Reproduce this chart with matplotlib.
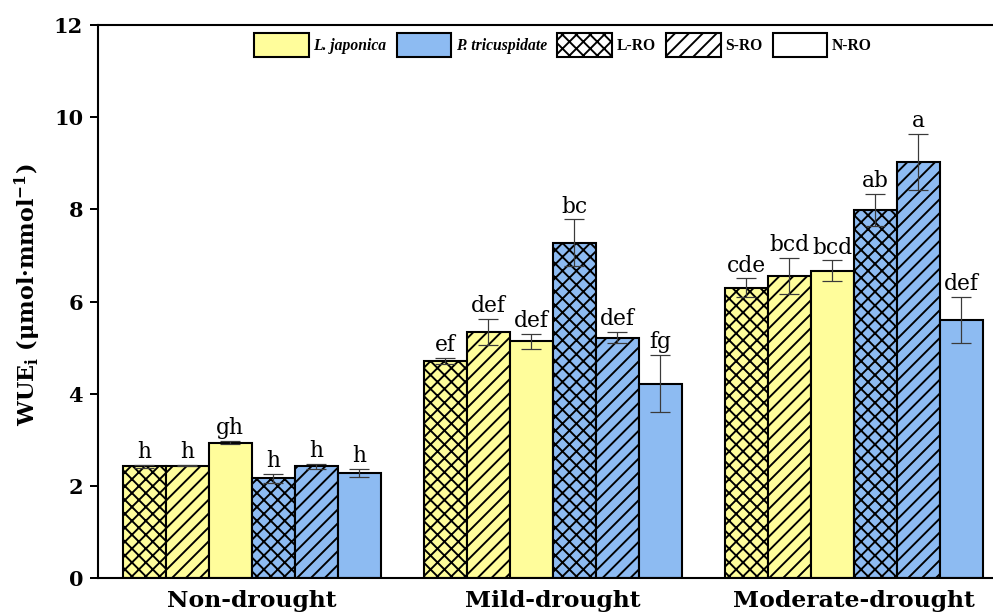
import matplotlib
matplotlib.use("Agg")
import matplotlib.pyplot as plt
from matplotlib.patches import Patch
import numpy as np

groups = ['Non-drought', 'Mild-drought', 'Moderate-drought']

lj_lro = [2.42, 4.71, 6.30]
lj_sro = [2.44, 5.34, 6.55]
lj_nro = [2.94, 5.14, 6.67]
pt_lro = [2.16, 7.27, 7.99]
pt_sro = [2.42, 5.21, 9.03]
pt_nro = [2.28, 4.22, 5.59]

lj_lro_err = [0.03, 0.06, 0.20]
lj_sro_err = [0.02, 0.29, 0.39]
lj_nro_err = [0.04, 0.16, 0.22]
pt_lro_err = [0.10, 0.51, 0.35]
pt_sro_err = [0.06, 0.12, 0.61]
pt_nro_err = [0.09, 0.61, 0.50]

lj_lro_let = ['h', 'ef', 'cde']
lj_sro_let = ['h', 'def', 'bcd']
lj_nro_let = ['gh', 'def', 'bcd']
pt_lro_let = ['h', 'bc', 'ab']
pt_sro_let = ['h', 'def', 'a']
pt_nro_let = ['h', 'fg', 'def']

yticks = [0, 2, 4, 6, 8, 10, 12]
legend_labels = ['L. japonica', 'P. tricuspidate', 'L-RO', 'S-RO', 'N-RO']

YELLOW = '#FFFD9B'
BLUE = '#8DBBF2'

plt.rcParams['font.family'] = ['DejaVu Serif']
plt.rcParams['mathtext.fontset'] = 'dejavuserif'
plt.rcParams['hatch.linewidth'] = 1.1
plt.rcParams['hatch.color'] = 'black'

DPI = 125
fig = plt.figure(figsize=(993 / DPI, 615 / DPI), dpi=DPI)
ax = fig.add_axes([98 / 993, 1 - 578 / 615, 895 / 993, 553 / 615])

series = [
    (lj_lro, lj_lro_err, lj_lro_let, YELLOW, 'xxx'),
    (lj_sro, lj_sro_err, lj_sro_let, YELLOW, '///'),
    (lj_nro, lj_nro_err, lj_nro_let, YELLOW, ''),
    (pt_lro, pt_lro_err, pt_lro_let, BLUE, 'xxx'),
    (pt_sro, pt_sro_err, pt_sro_let, BLUE, '///'),
    (pt_nro, pt_nro_err, pt_nro_let, BLUE, ''),
]

w = 1 / 7
x = np.arange(len(groups))
for i, (vals, errs, lets, col, hatch) in enumerate(series):
    xs = x + (i - 2.5) * w
    ax.bar(xs, vals, width=w, color=col, edgecolor='black', linewidth=1.2,
           hatch=hatch, zorder=2)
    ax.errorbar(xs, vals, yerr=errs, fmt='none', ecolor='#3a3a3a',
                elinewidth=0.7, capsize=6, capthick=0.7, zorder=3)
    for xi, v, e, t in zip(xs, vals, errs, lets):
        ax.annotate(t, (xi, v + e), xytext=(0, 4), textcoords='offset points',
                    ha='center', va='baseline', fontsize=12.5, zorder=4)

ax.set_xlim(-0.51, 2.463)
ax.set_ylim(0, 12)
ax.set_yticks(yticks)
ax.set_yticklabels([str(t) for t in yticks], fontweight='bold', fontsize=12)
ax.set_xticks(x)
ax.set_xticklabels(groups, fontweight='bold', fontsize=13.5)
ax.tick_params(axis='x', length=0, pad=7)
ax.tick_params(axis='y', direction='out', length=4.6, width=1.15, pad=4)
for s in ['left', 'bottom', 'top']:
    ax.spines[s].set_linewidth(1.2)
ax.spines['right'].set_visible(False)

ax.set_ylabel(r'WUE$_\mathbf{i}$ (μmol·mmol$^{\mathbf{-1}}$)', fontweight='bold',
              fontsize=12.8)
ax.yaxis.set_label_coords(-0.0615, 0.5127)

handles = [
    Patch(facecolor=YELLOW, edgecolor='black', linewidth=1.2),
    Patch(facecolor=BLUE, edgecolor='black', linewidth=1.2),
    Patch(facecolor='white', edgecolor='black', linewidth=1.2, hatch='xxx'),
    Patch(facecolor='white', edgecolor='black', linewidth=1.2, hatch='///'),
    Patch(facecolor='white', edgecolor='black', linewidth=1.2),
]
leg = ax.legend(handles, legend_labels, loc='upper center',
                bbox_to_anchor=(0.5196, 0.9855),
                ncol=5, frameon=False,
                handlelength=3.5, handleheight=2.0, handletextpad=0.3,
                columnspacing=0.65, borderpad=0, borderaxespad=0,
                prop={'family': 'Liberation Serif', 'weight': 'bold', 'size': 9})
for t in leg.get_texts()[:2]:
    t.set_fontstyle('italic')

fig.savefig('out.png', dpi=DPI)
